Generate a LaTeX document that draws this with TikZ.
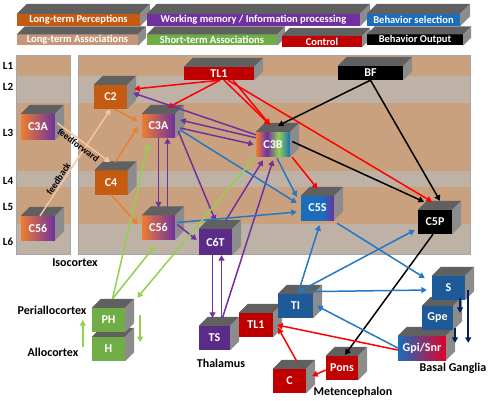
\documentclass[tikz,border=0pt]{standalone}
\usepackage{fontspec}
\setmainfont{Carlito}
\usetikzlibrary{arrows.meta}
\definecolor{brn}{HTML}{C9A17E}
\definecolor{gry}{HTML}{BEB1A6}
\definecolor{facetop}{HTML}{606060}
\definecolor{faceside}{HTML}{8C8C8C}
\definecolor{ltorng}{HTML}{C55A11}
\definecolor{gorng}{HTML}{ED7D31}
\definecolor{purp}{HTML}{7030A0}
\definecolor{dpurp}{HTML}{5A2C88}
\definecolor{blu}{HTML}{1A6DBA}
\definecolor{dblu}{HTML}{1E5A98}
\definecolor{ltassoc}{HTML}{C4977B}
\definecolor{stgrn}{HTML}{70AD47}
\definecolor{ctlred}{HTML}{C00000}
\definecolor{gpired}{HTML}{E0002A}
\definecolor{ared}{HTML}{FF0000}
\definecolor{apurp}{HTML}{7030A0}
\definecolor{ablu}{HTML}{2478C6}
\definecolor{agrn}{HTML}{92D050}
\definecolor{aorng}{HTML}{ED7D31}
\definecolor{apeach}{HTML}{F8C49C}
\definecolor{navy}{HTML}{002060}
\pgfdeclarehorizontalshading{rainbow}{100bp}{color(0bp)=(gorng); color(25bp)=(gorng); color(41bp)=(purp); color(58bp)=(agrn); color(75bp)=(blu); color(100bp)=(blu)}
\pgfdeclarehorizontalshading{bluviolet}{100bp}{color(0bp)=(blu); color(25bp)=(blu); color(58bp)=(blu); color(75bp)=(purp); color(100bp)=(purp)}
\tikzset{
  cube/.style={inner sep=0pt,minimum width=33pt,minimum height=24pt,text=white,font=\fontsize{12}{14}\selectfont\bfseries},
  legendbox/.style={cube,minimum height=12pt,font=\fontsize{10.5}{12}\selectfont\bfseries},
  topface/.style={fill=facetop},
  sideface/.style={fill=faceside},
  panel/.style={draw=gray!70,line width=0.6pt},
  conn/.style={line width=1.5pt,-{Triangle[length=5.5pt,width=6pt]}},
  areatext/.style={font=\fontsize{12}{14}\selectfont\bfseries},
  lvl/.style={font=\fontsize{11}{13}\selectfont\bfseries},
  lbl/.style={text=black,font=\fontsize{9.5}{11}\selectfont\bfseries,inner sep=0.5pt}
}
\newcommand\boxcube[5][9]{%
  \node[cube,#2] (#3) at (#4) {#5};
  \fill[topface] (#3.north west) -- ++(#1,-#1) -- ([shift={(#1,-#1)}]#3.north east) -- (#3.north east) -- cycle;
  \fill[sideface] (#3.north east) -- ++(#1,-#1) -- ([shift={(#1,-#1)}]#3.south east) -- (#3.south east) -- cycle;
}
\begin{document}
\begin{tikzpicture}[x=1pt,y=-1pt]
\useasboundingbox (0,0) rectangle (490,401);
\foreach \ya/\yb/\c in {55/76/brn,76/103/gry,103/171/brn,171/187/gry,187/224/brn,224/254/gry}{
  \fill[fill=\c] (16,\ya) rectangle (70,\yb);
  \fill[fill=\c] (78,\ya) rectangle (470,\yb);
}
\draw[panel] (16,55) rectangle (70,254);
\draw[panel] (78,55) rectangle (470,254);
\foreach \t/\y in {L1/66,L2/87,L3/133,L4/181,L5/207,L6/242}
  \node[lvl] (\t) at (8,\y) {\t};

\boxcube[8]{legendbox,fill=ltassoc,minimum width=121pt,minimum height=11pt}{lta}{77.5,40}{Long-term Associations}
\boxcube[8]{legendbox,fill=stgrn,minimum width=130pt,minimum height=11pt}{sta}{212,40}{Short-term Associations}
\boxcube[8]{legendbox,fill=ctlred,minimum width=80pt,minimum height=11pt}{ctl}{322,41.5}{Control}
\boxcube[8]{legendbox,fill=black,minimum width=96pt,minimum height=11pt}{bo}{415,40}{Behavior Output}
\boxcube[10]{legendbox,fill=ltorng,minimum width=123pt}{ltp}{78.5,20}{Long-term Perceptions}
\boxcube[10]{legendbox,fill=purp,minimum width=213pt}{wm}{253.5,20}{Working memory / Information processing}
\boxcube[10]{legendbox,fill=blu,minimum width=93pt}{bs}{413.5,20}{Behavior selection}

\boxcube{left color=gorng,right color=purp,minimum width=34pt,minimum height=26pt}{lc3a}{38,127}{C3A}
\boxcube{left color=gorng,right color=purp,minimum width=34pt}{lc56}{38,228}{C56}
\boxcube{fill=ltorng}{c2}{110.5,97}{C2}
\boxcube{left color=gorng,right color=purp}{c3a}{158.5,126}{C3A}
\boxcube{fill=ltorng}{c4}{111,182.5}{C4}
\boxcube{left color=gorng,right color=purp}{c56}{158.5,227.5}{C56}
\boxcube{fill=dpurp,minimum height=26pt}{c6t}{215.5,242}{C6T}
\boxcube{fill=ctlred,minimum width=70pt,minimum height=13pt}{tl1}{219,73.5}{TL1}
\boxcube{fill=black,minimum width=65pt,minimum height=14pt}{bf}{370.5,73}{BF}
\boxcube{shade,shading=rainbow,minimum width=34pt,minimum height=25pt}{c3b}{273,144.5}{C3B}
\boxcube{shade,shading=bluviolet}{c5s}{317.5,208}{C5S}
\boxcube{fill=black,minimum width=34pt}{c5p}{435,222}{C5P}
\boxcube{fill=stgrn}{h}{108.5,349}{H}
\boxcube{fill=stgrn}{ph}{108.5,320}{PH}
\boxcube{fill=dpurp,minimum width=31pt}{ts}{214.5,338}{TS}
\boxcube{fill=ctlred,minimum width=34pt}{tl1b}{256,325}{TL1}
\boxcube{fill=dblu,minimum width=35pt}{ti}{295.5,306}{TI}
\boxcube{left color=blu,right color=gpired,minimum width=48pt}{gpi}{422,348}{Gpi/Snr}
\boxcube{fill=dblu,minimum width=31pt}{gpe}{437.5,318}{Gpe}
\boxcube{fill=dblu}{s}{448.5,288}{S}
\boxcube{fill=ctlred,minimum width=32pt}{pons}{342,368}{Pons}
\boxcube{fill=ctlred}{cc}{289.5,381}{C}

\draw[conn,apeach] ([shift={(2,-4)}]lc3a.east) -- ([shift={(-1,-8)}]c4.north);
\draw[conn,apeach] ([shift={(2,0)}]lc56.north) -- (c2.south);
\path ([shift={(2,-4)}]lc3a.east) -- node[lbl,sloped,below=1pt,pos=0.46]{feedforward} ([shift={(-1,-8)}]c4.north);
\path ([shift={(2,0)}]lc56.north) -- node[lbl,sloped,above=1pt,pos=0.32]{feedback} (c2.south);

\draw[conn,aorng] ([shift={(4,0)}]c2.south) -- ([shift={(-4,-5)}]c3a.west);
\draw[conn,aorng] ([shift={(4,-8)}]c4.north) -- ([shift={(-4,1)}]c3a.west);
\draw[conn,aorng] (c4.south) -- ([shift={(-4,-3)}]c56.west);

\draw[conn,ared] ([shift={(1,0)}]tl1.south) -- ([shift={(7,-8)}]c2.east);
\draw[conn,ared] ([shift={(1,0)}]tl1.south) -- ([shift={(9,-6)}]c3a.north);
\draw[conn,ared] ([shift={(5,0)}]tl1.south) -- ([shift={(-3,-7)}]c3b.north);
\draw[conn,ared] ([shift={(14,0)}]tl1.south) -- ([shift={(-3,-7)}]c3b.north);
\draw[conn,ared] ([shift={(9,0)}]tl1.south) -- ([shift={(-3,-8)}]c5p.north);
\draw[conn,ared] ([shift={(2,0)}]c3b.south east) -- ([shift={(0,-7)}]c5s.north);

\draw[conn,black] (bf.south) -- ([shift={(5,-6)}]c3b.north);
\draw[conn,black] (bf.south) -- ([shift={(5,-9)}]c5p.north);
\draw[conn,black] ([shift={(2,-3)}]c3b.east) -- ([shift={(-11,-8)}]c5p.north);
\draw[conn,black] ([shift={(-2,0)}]c5p.south) -- ([shift={(3,-1)}]pons.north);

\draw[conn,apurp] ([shift={(0,3)}]c3b.north west) -- ([shift={(6,-4)}]c2.east);
\draw[conn,apurp] ([shift={(0,6)}]c3b.north west) -- ([shift={(5,-6)}]c3a.east);
\draw[conn,apurp] ([shift={(5,2)}]c3a.east) -- ([shift={(-2,0)}]c3b.west);
\draw[conn,apurp] (c3a.south) -- ([shift={(0,-8)}]c56.north);
\draw[conn,apurp] ([shift={(9,-8)}]c56.north) -- ([shift={(9,0)}]c3a.south);
\draw[conn,apurp] ([shift={(3,5)}]c3a.east) -- ([shift={(0,-8)}]c6t.north);
\draw[conn,apurp] ([shift={(2,-3)}]c56.east) -- ([shift={(-2,-2)}]c6t.west);
\draw[conn,apurp] ([shift={(10,-8)}]c6t.north) -- ([shift={(-10,3)}]c3b.south);
\draw[conn,apurp] ([shift={(8,-8)}]ts.north) -- ([shift={(0,3)}]c3b.south);
\draw[conn,apurp] ([shift={(-3,0)}]c6t.south) -- ([shift={(-2,-8)}]ts.north);
\draw[conn,apurp] ([shift={(7,-8)}]ts.north) -- ([shift={(6,0)}]c6t.south);

\draw[conn,ablu] ([shift={(5,4)}]c3a.east) -- ([shift={(-4,-5)}]c5s.west);
\draw[conn,ablu] ([shift={(4,1)}]c3b.south) -- ([shift={(-4,1)}]c5s.north west);
\draw[conn,ablu] ([shift={(2,-5)}]c56.east) -- ([shift={(-4,4)}]c5s.west);
\draw[conn,ablu] ([shift={(3,-2)}]ti.north) -- ([shift={(2,5)}]c5s.south);
\draw[conn,ablu] ([shift={(3,-2)}]ti.north) -- ([shift={(-3,8)}]c5p.west);
\draw[conn,ablu] ([shift={(3,-2)}]ti.north) -- ([shift={(-5,2)}]s.west);
\draw[conn,ablu] ([shift={(3,3)}]c5s.south east) -- ([shift={(-7,-10)}]s.west);
\draw[conn,ablu] (gpi.west) -- ([shift={(4,0)}]ti.east);

\draw[conn,ared] ([shift={(0,2)}]gpi.west) -- ([shift={(4,0)}]tl1b.east);
\draw[conn,ared] ([shift={(7,-8)}]cc.north) -- ([shift={(5,3)}]tl1b.east);
\draw[conn,ared] ([shift={(0,2)}]pons.west) -- ([shift={(6,-5)}]cc.east);

\draw[conn,navy] ([shift={(11.5,-2)}]s.south) -- ([shift={(22.5,7)}]gpe.north);
\draw[conn,navy] ([shift={(17.5,-2)}]gpe.south) -- ([shift={(33,7)}]gpi.north);
\draw[conn,navy] ([shift={(3,-10)}]s.south east) -- ([shift={(22,7)}]gpi.north east);

\draw[conn,agrn] ([shift={(4,-9)}]ph.north) -- ([shift={(-10,5)}]c3a.south);
\draw[conn,agrn] ([shift={(4,-9)}]ph.north) -- ([shift={(-3.5,6)}]c56.south);
\draw[conn,agrn] ([shift={(-1,0)}]c3b.south west) -- ([shift={(12,-10)}]ph.north east);
\draw[conn,agrn] ([shift={(-9,-2)}]h.west) -- ([shift={(-9,0)}]ph.west);
\draw[conn,agrn] ([shift={(15,-5)}]ph.east) -- ([shift={(15,-7)}]h.east);

\node[areatext] (iso) at (75,263) {Isocortex};
\node[areatext] (peri) at (52,310) {Periallocortex};
\node[areatext] (allo) at (53,352) {Allocortex};
\node[areatext] (thal) at (221,363) {Thalamus};
\node[areatext] (met) at (353,392) {Metencephalon};
\node[areatext] (bgan) at (453,368) {Basal Ganglia};
\end{tikzpicture}
\end{document}
